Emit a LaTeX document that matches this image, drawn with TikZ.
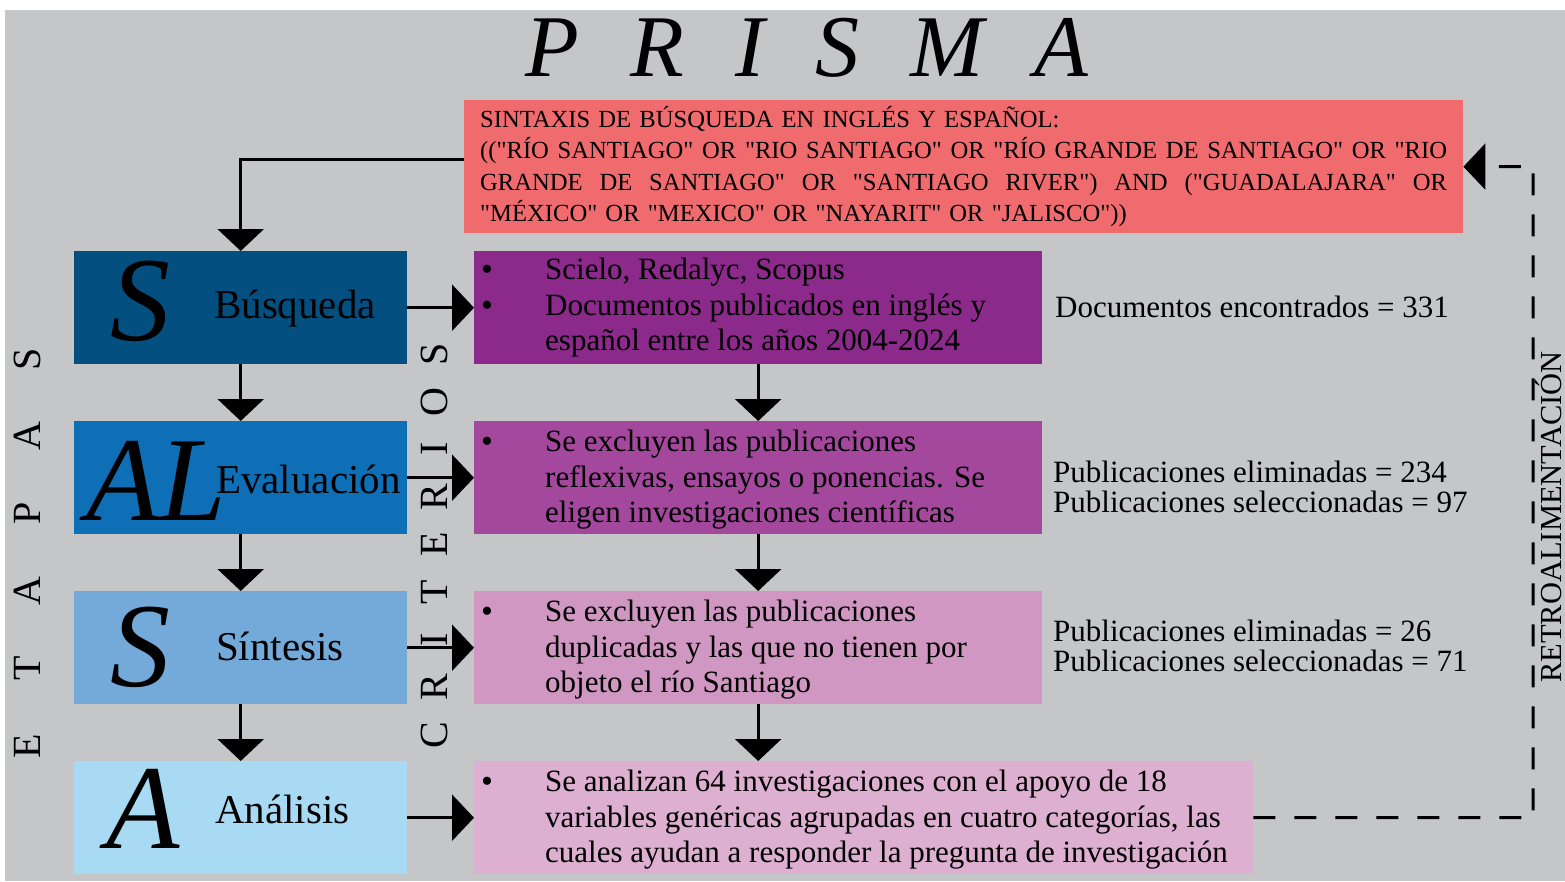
\documentclass[tikz,border=0pt]{standalone}
\usepackage{fontspec}
\setmainfont{Liberation Serif}
\newfontfamily\synfont{Liberation Serif}
\usetikzlibrary{arrows.meta}
\definecolor{bg}{HTML}{C5C6C8}
\definecolor{synred}{HTML}{F06B6E}
\definecolor{stA}{HTML}{034F80}
\definecolor{stB}{HTML}{0E6FB7}
\definecolor{stC}{HTML}{74AAD9}
\definecolor{stD}{HTML}{A8DBF3}
\definecolor{crA}{HTML}{8B2A8A}
\definecolor{crB}{HTML}{A4489D}
\definecolor{crC}{HTML}{D197C3}
\definecolor{crD}{HTML}{DDAFD1}
\newcommand{\bigbul}{\makebox[64pt][l]{\raisebox{-1pt}{\fontsize{34}{34}\selectfont\textbullet}}}
\begin{document}
\begin{tikzpicture}[x=1pt,y=1pt,
  arr/.style={-{Triangle[width=46pt,length=22pt]}, line width=3pt},
  fbarr/.style={-{Triangle[width=46pt,length=22pt]}, line width=3pt, dash pattern=on 22pt off 19pt},
  stagebox/.style={anchor=north west, inner sep=0pt, minimum width=333pt, minimum height=113pt},
  critbox/.style={anchor=north west, inner sep=0pt, minimum width=568pt, minimum height=113pt},
  bigletter/.style={anchor=base west, inner sep=0pt, font=\fontsize{120}{120}\selectfont\itshape},
  stagelbl/.style={anchor=base west, inner sep=0pt, font=\fontsize{41}{45}\selectfont},
  bodytxt/.style={anchor=west, inner sep=0pt, align=left, font=\fontsize{31}{35.5}\selectfont},
  counttxt/.style={anchor=west, inner sep=0pt, align=left, font=\fontsize{31}{30}\selectfont},
  spacedtxt/.style={rotate=90, anchor=base, inner sep=0pt, font=\fontsize{40}{40}\selectfont}
]
\useasboundingbox (0,0) rectangle (1565,-881);
\fill[bg] (5,-10) rectangle (1565,-881);

% title
\node[anchor=base, inner sep=0pt, font=\fontsize{88}{90}\selectfont\itshape] (title) at (807,-76)
  {P\hspace{51pt}R\hspace{51pt}I\hspace{51pt}S\hspace{51pt}M\hspace{51pt}A};

% search syntax box
\node[anchor=north west, inner xsep=16pt, inner ysep=0pt, minimum height=133pt, text width=967pt,
      fill=synred, font=\synfont\fontsize{24.6}{31.5}\selectfont, align=left] (red) at (464,-100)
  {SINTAXIS DE BÚSQUEDA EN INGLÉS Y ESPAÑOL:\\
   \makebox[967pt][l]{(("RÍO\hfill SANTIAGO"\hfill OR\hfill "RIO\hfill SANTIAGO"\hfill OR\hfill "RÍO\hfill GRANDE\hfill DE\hfill SANTIAGO"\hfill OR\hfill "RIO}\\
   \makebox[967pt][l]{GRANDE\hfill DE\hfill SANTIAGO"\hfill OR\hfill "SANTIAGO\hfill RIVER")\hfill AND\hfill ("GUADALAJARA"\hfill OR}\\
   "MÉXICO" OR "MEXICO" OR "NAYARIT" OR "JALISCO"))};

% stage boxes
\node[stagebox, fill=stA] (l1) at (74,-251) {};
\node[stagebox, fill=stB] (l2) at (74,-421) {};
\node[stagebox, fill=stC] (l3) at (74,-591) {};
\node[stagebox, fill=stD] (l4) at (74,-761) {};

\node[bigletter] (s1) at (110,-340) {S};
\node[stagelbl] (t1) at (214,-318.3) {Búsqueda};
\node[bigletter] (s2) at (86,-520) {AL};
\node[stagelbl] (t2) at (216,-493) {Evaluación};
\node[bigletter] (s3) at (110,-686) {S};
\node[stagelbl] (t3) at (216,-660) {Síntesis};
\node[bigletter] (s4) at (106,-848) {A};
\node[stagelbl] (t4) at (215,-823) {Análisis};

% criteria boxes
\node[critbox, fill=crA] (r1) at (474,-251) {};
\node[critbox, fill=crB] (r2) at (474,-421) {};
\node[critbox, fill=crC] (r3) at (474,-591) {};
\node[critbox, fill=crD, minimum width=779pt] (r4) at (474,-761) {};

\node[bodytxt] (b1) at ([xshift=7pt]r1.west)
  {\bigbul Scielo, Redalyc, Scopus\\
   \bigbul Documentos publicados en inglés y\\
   \hspace*{64pt}español entre los años 2004-2024};
\node[bodytxt] (b2) at ([xshift=7pt,yshift=-2pt]r2.west)
  {\bigbul Se excluyen las publicaciones\\
   \hspace*{64pt}reflexivas, ensayos o ponencias. Se\\
   \hspace*{64pt}eligen investigaciones científicas};
\node[bodytxt] (b3) at ([xshift=7pt,yshift=-2pt]r3.west)
  {\bigbul Se excluyen las publicaciones\\
   \hspace*{64pt}duplicadas y las que no tienen por\\
   \hspace*{64pt}objeto el río Santiago};
\node[bodytxt] (b4) at ([xshift=7pt,yshift=-2pt]r4.west)
  {\bigbul Se analizan 64 investigaciones con el apoyo de 18\\
   \hspace*{64pt}variables genéricas agrupadas en cuatro categorías, las\\
   \hspace*{64pt}cuales ayudan a responder la pregunta de investigación};

% counts
\node[counttxt] (n1) at (1055,-307) {Documentos encontrados = 331};
\node[counttxt] (n2) at (1053,-487) {Publicaciones eliminadas = 234\\Publicaciones seleccionadas = 97};
\node[counttxt] (n3) at (1053,-646) {Publicaciones eliminadas = 26\\Publicaciones seleccionadas = 71};

% side labels
\node[spacedtxt] (etapas) at (40,-552.5)
  {\makebox[77.4pt]{E}\makebox[77.4pt]{T}\makebox[77.4pt]{A}\makebox[77.4pt]{P}\makebox[77.4pt]{A}\makebox[77.4pt]{S}};
\node[spacedtxt] (criterios) at (447,-544.5)
  {\makebox[47.6pt]{C}\makebox[47.6pt]{R}\makebox[47.6pt]{I}\makebox[47.6pt]{T}\makebox[47.6pt]{E}\makebox[47.6pt]{R}\makebox[47.6pt]{I}\makebox[47.6pt]{O}\makebox[47.6pt]{S}};
\node[rotate=90, anchor=base, inner sep=0pt, font=\fontsize{30.5}{30}\selectfont] (retro) at (1561,-517) {RETROALIMENTACIÓN};

% connectors
\draw[arr] ([yshift=7.5pt]red.west) -| (l1.north);
\draw[arr] (l1.south) -- (l2.north);
\draw[arr] (l2.south) -- (l3.north);
\draw[arr] (l3.south) -- (l4.north);
\draw[arr] (r1.south) -- (r2.north);
\draw[arr] (r2.south) -- (r3.north);
\draw[arr] (r3.south) -- (r3.south |- r4.north);
\draw[arr] (l1.east) -- (r1.west);
\draw[arr] (l2.east) -- (r2.west);
\draw[arr] (l3.east) -- (r3.west);
\draw[arr] (l4.east) -- (r4.west);
\coordinate (fbcorner) at (1533,-166.5);
\draw[fbarr] (r4.east) -| (fbcorner) -- (red.east);
\end{tikzpicture}
\end{document}
